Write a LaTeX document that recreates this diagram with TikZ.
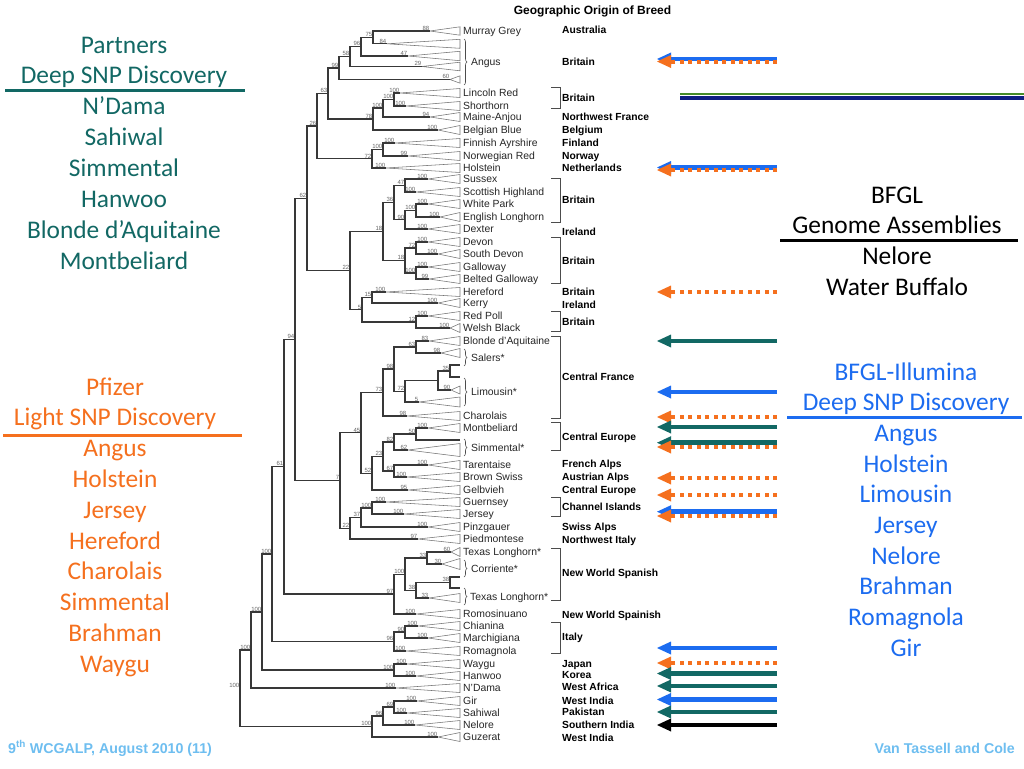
\documentclass[tikz,border=0pt]{standalone}
\usepackage{fontspec}
\setmainfont{Liberation Sans}
\newfontfamily\calfont{Carlito}
\usetikzlibrary{decorations.pathreplacing}
\definecolor{tealc}{RGB}{18,104,100}
\definecolor{orangec}{RGB}{245,112,30}
\definecolor{bluec}{RGB}{28,108,240}
\definecolor{footc}{RGB}{110,190,240}
\definecolor{greenc}{RGB}{70,140,40}
\definecolor{navyc}{RGB}{15,30,130}
\newcommand\leafx[5]{\coordinate (#1) at (#2,#3);
  \draw[tri] (#1) -- (460,#3-#5) -- (460,#3+#5) -- cycle;
  \node[sup,anchor=south east] at (#1) {#4};}
\newcommand\nodex[5]{\coordinate (#1) at (#2,#3);
  \foreach \ch in {#5} {\draw[br] (#1) |- (\ch);}
  \node[sup,anchor=south east] at (#1) {#4};}
\newcommand\harrow[4]{\coordinate (#1s) at (777,#2); \coordinate (#1e) at (670,#2);
  \draw[#3] (#1s) -- (#1e);
  \fill[#4] (657,#2) -- (671,#2-6.5) -- (671,#2+6.5) -- cycle;}
\begin{document}
\begin{tikzpicture}[x=1pt,y=-1pt,
  br/.style={draw=black!78,line width=1.2pt},
  tri/.style={draw=black!55,line width=0.55pt},
  sup/.style={font=\fontsize{6}{6}\selectfont,text=black!60,inner sep=0.5pt},
  lname/.style={font=\fontsize{10.4}{11}\selectfont,text=black!85,anchor=west,inner sep=0pt,text height=7.4pt,text depth=0pt},
  geo/.style={font=\bfseries\fontsize{10.3}{11}\selectfont,anchor=west,inner sep=0pt,text height=7.4pt,text depth=0pt},
  brk/.style={draw=black!70,line width=0.9pt},
  brc/.style={draw=black!70,line width=0.6pt,decorate,decoration={brace,amplitude=3pt}},
  big/.style={font=\calfont\fontsize{25.4}{30}\selectfont,inner sep=0pt,text height=16pt,text depth=0pt,anchor=center},
  foot/.style={font=\bfseries\fontsize{14.2}{14}\selectfont,text=footc,inner sep=0pt,text height=10pt,text depth=0pt},
  solidA/.style={line width=4.5pt},
  dotA/.style={line width=4pt,dash pattern=on 4pt off 4.5pt}]
\useasboundingbox (0,0) rectangle (1024,768);
\fill[white] (0,0) rectangle (1024,768);

% ---------- title ----------
\node[font=\bfseries\fontsize{12}{12}\selectfont,inner sep=0pt,text height=8.6pt,text depth=0pt] (title) at (592.5,10) {Geographic Origin of Breed};

% ---------- leaves ----------
\leafx{mg}{430}{31}{88}{4.2}
\leafx{an1}{387}{43.8}{84}{4.5}
\leafx{an2}{408}{56}{47}{4.7}
\leafx{an3}{422}{66.5}{29}{4.3}
\leafx{an4}{450}{79.5}{60}{3.7}
\leafx{lr}{400}{93}{100}{4.5}
\leafx{sh}{406}{106}{100}{4.5}
\leafx{ma}{430}{117}{94}{4.5}
\leafx{bb}{438}{130}{100}{4.5}
\leafx{fa}{395}{143}{100}{4.5}
\leafx{nr}{408}{156}{99}{4.5}
\leafx{ho}{386}{168}{100}{4.5}
\leafx{su}{428}{179}{100}{4.5}
\leafx{shl}{416}{192}{100}{4.5}
\leafx{wp}{428}{204}{100}{4.5}
\leafx{el}{440}{217}{100}{4.5}
\leafx{dx}{428}{229}{100}{4.5}
\leafx{dv}{428}{242}{100}{4.5}
\leafx{sd}{438}{254}{100}{4.5}
\leafx{ga}{428}{267}{100}{4.5}
\leafx{bg}{429}{279}{99}{4.5}
\leafx{he}{386}{292}{100}{4.5}
\leafx{ke}{438}{303}{100}{4.5}
\leafx{rp}{428}{316}{100}{4.5}
\leafx{wb}{450}{328}{100}{4.5}
\leafx{bl}{429}{341}{83}{4.5}
\leafx{sa}{441}{353}{98}{4.5}
\coordinate (t1) at (460,365); \coordinate (t2) at (460,377);
\leafx{l90}{451}{390}{90}{4}
\leafx{l5}{419}{402}{5}{5}
\leafx{ch}{407}{416}{98}{4.5}
\leafx{mo}{428}{428}{100}{4.5}
\coordinate (t3) at (460,440);
\leafx{s62}{408}{450}{62}{6.5}
\leafx{ta}{428}{465}{100}{4.5}
\leafx{bs}{407}{477}{100}{4.5}
\leafx{gb}{408}{490}{95}{4.5}
\leafx{gu}{386}{502}{100}{4.5}
\leafx{je}{404}{514}{100}{4.5}
\leafx{pz}{428}{527}{100}{4.5}
\leafx{pd}{418}{539}{97}{4.5}
\leafx{tl1}{451}{552}{60}{4.5}
\leafx{co}{442}{564}{30}{5.5}
\coordinate (t4) at (460,577); \coordinate (t5) at (460,588);
\leafx{tl2}{429}{598}{33}{4.5}
\leafx{ro}{416}{614}{100}{4.5}
\leafx{ci}{418}{626}{100}{4.5}
\leafx{mc}{428}{638}{100}{4.5}
\leafx{rg}{406}{651}{100}{4.5}
\leafx{wy}{407}{664}{100}{4.5}
\leafx{hw}{416}{676}{100}{4.5}
\leafx{nd}{396}{688}{100}{4.5}
\leafx{gi}{417}{701}{100}{4.5}
\leafx{sw}{407}{713}{100}{4.5}
\leafx{ne}{415}{725}{100}{4.5}
\leafx{gz}{438}{737}{100}{4.5}

% ---------- internal nodes ----------
\nodex{n75}{373}{37.4}{75}{mg,an1}
\nodex{n96}{361}{46.7}{96}{n75,an2}
\nodex{n58}{350}{56.6}{58}{n96,an3}
\nodex{n99}{339}{68}{99}{n58,an4}
\nodex{n100a}{394}{99.5}{100}{lr,sh}
\nodex{n100b}{383}{108}{100}{n100a,ma}
\nodex{n78}{373}{119}{78}{n100b,bb}
\nodex{n63}{328}{93.5}{63}{n99,n78}
\nodex{n100c}{383}{149.5}{100}{fa,nr}
\nodex{n72}{372}{158.7}{72}{n100c,ho}
\nodex{n26}{317}{126}{26}{n63,n72}
\nodex{n47}{405}{185.5}{47}{su,shl}
\nodex{n100wp}{416}{210.5}{100}{wp,el}
\nodex{n90}{405}{219.8}{90}{n100wp,dx}
\nodex{n36}{394}{202.6}{36}{n47,n90}
\nodex{n72b}{416}{248}{72}{dv,sd}
\nodex{n100gal}{416}{273}{100}{ga,bg}
\nodex{n18b}{405}{260.5}{18}{n72b,n100gal}
\nodex{n18}{383}{231.5}{18}{n36,n18b}
\nodex{n15}{372}{297.5}{15}{he,ke}
\nodex{n12}{416}{322}{12}{rp,wb}
\nodex{n5}{362}{309.8}{5}{n15,n12}
\nodex{n22}{350}{270.6}{22}{n18,n5}
\nodex{n62}{307}{198.3}{62}{n26,n22}
\nodex{n63b}{416}{347}{63}{bl,sa}
\nodex{n35}{450}{371}{35}{t1,t2}
\nodex{nL}{438}{380.5}{}{n35,l90}
\nodex{n72c}{405}{391.2}{72}{nL,l5}
\nodex{n98}{394}{369}{98}{n63b,n72c}
\nodex{n73}{383}{392.5}{73}{n98,ch}
\nodex{n50}{416}{434}{50}{mo,t3}
\nodex{n82}{394}{442}{82}{n50,s62}
\nodex{n67}{394}{471}{67}{ta,bs}
\nodex{n23}{383}{456.5}{23}{n82,n67}
\nodex{n52}{372}{473.2}{52}{n23,gb}
\nodex{n45}{361}{432.8}{45}{n73,n52}
\nodex{n100gj}{372}{508}{100}{gu,je}
\nodex{n37}{361}{517.5}{37}{n100gj,pz}
\nodex{n22b}{350}{528.2}{22}{n37,pd}
\nodex{n7}{340}{480.5}{7}{n45,n22b}
\nodex{n94}{295}{339.4}{94}{n62,n7}
\nodex{n33}{427}{558}{33}{tl1,co}
\nodex{n38b}{450}{582.5}{38}{t4,t5}
\nodex{n38}{416}{590.2}{38}{n38b,tl2}
\nodex{n100nws}{405}{574.1}{100}{n33,n38}
\nodex{n97}{394}{594}{97}{n100nws,ro}
\nodex{n61}{284}{466.7}{61}{n94,n97}
\nodex{n90c}{405}{632}{90}{ci,mc}
\nodex{n96b}{394}{641.5}{96}{n90c,rg}
\nodex{n100d}{272}{554}{100}{n61,n96b}
\nodex{n100f}{394}{670}{100}{wy,hw}
\nodex{n100e}{262}{612}{100}{n100d,n100f}
\nodex{n100g}{251}{650}{100}{n100e,nd}
\nodex{n69}{394}{707}{69}{gi,sw}
\nodex{n96c}{383}{716}{96}{n69,ne}
\nodex{n100i}{372}{726.5}{100}{n96c,gz}
\nodex{nroot}{240}{688}{100}{n100g,n100i}

% ---------- braces ----------
\draw[brc] (464,39) -- (464,85);
\draw[brc] (464,349) -- (464,366);
\draw[brc] (464,378) -- (464,406);
\draw[brc] (464,439) -- (464,456);
\draw[brc] (464,560) -- (464,577);
\draw[brc] (464,588) -- (464,605);

% ---------- leaf names ----------
\node[lname] (Lmg) at (463,31) {Murray Grey};
\node[lname] (Lan) at (471,62) {Angus};
\node[lname] (Llr) at (463,93) {Lincoln Red};
\node[lname] (Lsh) at (463,106) {Shorthorn};
\node[lname] (Lma) at (463,117) {Maine-Anjou};
\node[lname] (Lbb) at (463,130) {Belgian Blue};
\node[lname] (Lfa) at (463,143) {Finnish Ayrshire};
\node[lname] (Lnr) at (463,156) {Norwegian Red};
\node[lname] (Lho) at (463,168) {Holstein};
\node[lname] (Lsu) at (463,179) {Sussex};
\node[lname] (Lshl) at (463,192) {Scottish Highland};
\node[lname] (Lwp) at (463,204) {White Park};
\node[lname] (Lel) at (463,217) {English Longhorn};
\node[lname] (Ldx) at (463,229) {Dexter};
\node[lname] (Ldv) at (463,242) {Devon};
\node[lname] (Lsd) at (463,254) {South Devon};
\node[lname] (Lga) at (463,267) {Galloway};
\node[lname] (Lbg) at (463,279) {Belted Galloway};
\node[lname] (Lhe) at (463,292) {Hereford};
\node[lname] (Lke) at (463,303) {Kerry};
\node[lname] (Lrp) at (463,316) {Red Poll};
\node[lname] (Lwb) at (463,328) {Welsh Black};
\node[lname] (Lbl) at (463,341) {Blonde d'Aquitaine};
\node[lname] (Lsa) at (471,358) {Salers*};
\node[lname] (Lli) at (471,392) {Limousin*};
\node[lname] (Lch) at (463,416) {Charolais};
\node[lname] (Lmo) at (463,428) {Montbeliard};
\node[lname] (Lsi) at (471,448) {Simmental*};
\node[lname] (Lta) at (463,465) {Tarentaise};
\node[lname] (Lbs) at (463,477) {Brown Swiss};
\node[lname] (Lgb) at (463,490) {Gelbvieh};
\node[lname] (Lgu) at (463,502) {Guernsey};
\node[lname] (Lje) at (463,514) {Jersey};
\node[lname] (Lpz) at (463,527) {Pinzgauer};
\node[lname] (Lpd) at (463,539) {Piedmontese};
\node[lname] (Ltl1) at (463,552) {Texas Longhorn*};
\node[lname] (Lco) at (471,569) {Corriente*};
\node[lname] (Ltl2) at (470,597) {Texas Longhorn*};
\node[lname] (Lro) at (463,614) {Romosinuano};
\node[lname] (Lci) at (463,626) {Chianina};
\node[lname] (Lmc) at (463,638) {Marchigiana};
\node[lname] (Lrg) at (463,651) {Romagnola};
\node[lname] (Lwy) at (463,664) {Waygu};
\node[lname] (Lhw) at (463,676) {Hanwoo};
\node[lname] (Lnd) at (463,688) {N'Dama};
\node[lname] (Lgi) at (463,701) {Gir};
\node[lname] (Lsw) at (463,713) {Sahiwal};
\node[lname] (Lne) at (463,725) {Nelore};
\node[lname] (Lgz) at (463,737) {Guzerat};

% ---------- region brackets ----------
\draw[brk] (551,87) -| (560,108) -- (551,108);
\draw[brk] (551,178) -| (560,222) -- (551,222);
\draw[brk] (551,237) -| (560,283) -- (551,283);
\draw[brk] (551,311) -| (560,331) -- (551,331);
\draw[brk] (551,336) -| (560,418) -- (551,418);
\draw[brk] (551,422) -| (560,450) -- (551,450);
\draw[brk] (551,497) -| (560,516) -- (551,516);
\draw[brk] (551,548) -| (560,600) -- (551,600);
\draw[brk] (551,622) -| (560,653) -- (551,653);

% ---------- regions ----------
\node[geo] (G1) at (562,30) {Australia};
\node[geo] (G2) at (562,62) {Britain};
\node[geo] (G3) at (562,98) {Britain};
\node[geo] (G4) at (562,117) {Northwest France};
\node[geo] (G5) at (562,130) {Belgium};
\node[geo] (G6) at (562,143) {Finland};
\node[geo] (G7) at (562,156) {Norway};
\node[geo] (G8) at (562,168) {Netherlands};
\node[geo] (G9) at (562,200) {Britain};
\node[geo] (G10) at (562,232) {Ireland};
\node[geo] (G11) at (562,261) {Britain};
\node[geo] (G12) at (562,292) {Britain};
\node[geo] (G13) at (562,305) {Ireland};
\node[geo] (G14) at (562,322) {Britain};
\node[geo] (G15) at (562,377) {Central France};
\node[geo] (G16) at (562,437) {Central Europe};
\node[geo] (G17) at (562,464) {French Alps};
\node[geo] (G18) at (562,477) {Austrian Alps};
\node[geo] (G19) at (562,490) {Central Europe};
\node[geo] (G20) at (562,507) {Channel Islands};
\node[geo] (G21) at (562,527) {Swiss Alps};
\node[geo] (G22) at (562,540) {Northwest Italy};
\node[geo] (G23) at (562,573) {New World Spanish};
\node[geo] (G24) at (562,615) {New World Spainish};
\node[geo] (G25) at (562,637) {Italy};
\node[geo] (G26) at (562,664) {Japan};
\node[geo] (G27) at (562,675) {Korea};
\node[geo] (G28) at (562,687) {West Africa};
\node[geo] (G29) at (562,701) {West India};
\node[geo] (G30) at (562,712) {Pakistan};
\node[geo] (G31) at (562,725) {Southern India};
\node[geo] (G32) at (562,738) {West India};

% ---------- arrows ----------
\harrow{a1}{59}{solidA,bluec}{bluec}
\harrow{a1o}{61.5}{dotA,orangec}{orangec}
\coordinate (gs) at (680,94); \coordinate (ge) at (1024,94);
\coordinate (ns) at (680,98); \coordinate (ne) at (1024,98);
\draw[navyc,line width=4pt] (ns) -- (ne);
\draw[greenc,line width=2.6pt] (gs) -- (ge);
\harrow{a3}{167.5}{solidA,bluec}{bluec}
\harrow{a3o}{170}{dotA,orangec}{orangec}
\harrow{a4}{292}{dotA,orangec}{orangec}
\harrow{a5}{341}{solidA,tealc}{tealc}
\harrow{a6}{392}{solidA,bluec}{bluec}
\harrow{a7}{417}{dotA,orangec}{orangec}
\harrow{a8}{427}{solidA,tealc}{tealc}
\harrow{a9}{442.7}{solidA,tealc}{tealc}
\harrow{a9o}{447}{dotA,orangec}{orangec}
\harrow{a10}{478}{dotA,orangec}{orangec}
\harrow{a11}{495}{dotA,orangec}{orangec}
\harrow{a12}{511.7}{solidA,bluec}{bluec}
\harrow{a12o}{516}{dotA,orangec}{orangec}
\harrow{a13}{648}{solidA,bluec}{bluec}
\harrow{a14}{663}{dotA,orangec}{orangec}
\harrow{a15}{673.5}{solidA,tealc}{tealc}
\harrow{a16}{686}{solidA,tealc}{tealc}
\harrow{a17}{699.5}{solidA,bluec}{bluec}
\harrow{a18}{712}{solidA,tealc}{tealc}
\harrow{a19}{725}{solidA,black}{black}

% ---------- side texts ----------
\foreach \t [count=\i] in {Partners,Deep SNP Discovery,N’Dama,Sahiwal,Simmental,Hanwoo,Blonde d’Aquitaine,Montbeliard}
  \node[big,text=tealc] (P\i) at (124,{45+30.86*(\i-1)}) {\t};
\draw[tealc,line width=3pt] (5,90) -- (245,90);
\foreach \t [count=\i] in {Pfizer,Light SNP Discovery,Angus,Holstein,Jersey,Hereford,Charolais,Simmental,Brahman,Waygu}
  \node[big,text=orangec] (F\i) at (115,{387+30.8*(\i-1)}) {\t};
\draw[orangec,line width=3pt] (3,435) -- (242,435);
\foreach \t [count=\i] in {BFGL,Genome Assemblies,Nelore,Water Buffalo}
  \node[big,text=black] (B\i) at (897,{195+30.7*(\i-1)}) {\t};
\draw[black,line width=3pt] (780,240) -- (1018,240);
\foreach \t [count=\i] in {BFGL-Illumina,Deep SNP Discovery,Angus,Holstein,Limousin,Jersey,Nelore,Brahman,Romagnola,Gir}
  \node[big,text=bluec] (I\i) at (906,{372+30.7*(\i-1)}) {\t};
\draw[bluec,line width=3pt] (787,417) -- (1022,417);

% ---------- footer ----------
\node[foot,anchor=west] (f1) at (8,748) {9\textsuperscript{th} WCGALP, August 2010 (11)};
\node[foot,anchor=east] (f2) at (1015,748) {Van Tassell and Cole};
\end{tikzpicture}
\end{document}
